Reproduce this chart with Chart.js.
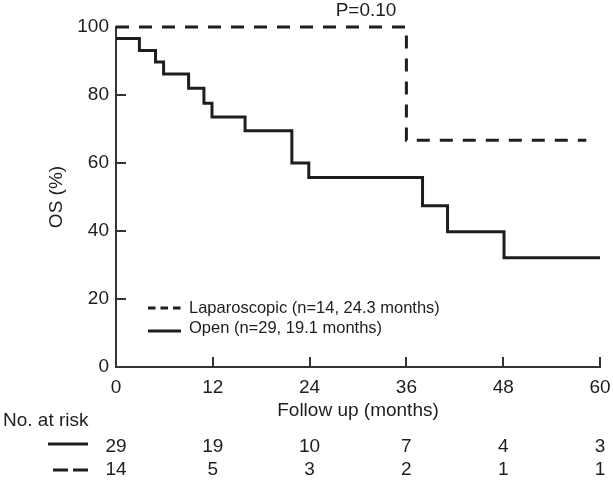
<!DOCTYPE html>
<html>
<head>
<meta charset="utf-8">
<script src="https://cdn.jsdelivr.net/npm/chart.js@4/dist/chart.umd.min.js"></script>
<style>
  html, body { margin: 0; padding: 0; background: #fff; }
</style>
</head>
<body>
<canvas id="kmChart" width="613" height="480"></canvas>
<script>
// Kaplan-Meier steps (months, OS %)
const openTimes = [0, 2.9, 4.9, 5.9, 9.0, 10.9, 11.9, 16.0, 21.8, 23.9, 38.0, 41.1, 48.1, 60];
const openSurv  = [96.6, 93.1, 89.7, 86.2, 82.0, 77.6, 73.5, 69.5, 60.0, 55.7, 47.4, 39.8, 32.1, 32.1];
const lapTimes  = [0, 36.0, 58.3];
const lapSurv   = [100, 66.7, 66.7];

// Number at risk table
const riskTimes = [0, 12, 24, 36, 48, 60];
const openRisk  = [29, 19, 10, 7, 4, 3];
const lapRisk   = [14, 5, 3, 2, 1, 1];

const xTicks = [0, 12, 24, 36, 48, 60];
const yTicks = [0, 20, 40, 60, 80, 100];

const legendLabels = ['Laparoscopic (n=14, 24.3 months)', 'Open (n=29, 19.1 months)'];

const ink = '#1e1e1e';
const axisColor = '#333';
const bigFont = '19px "Liberation Sans", Arial, Helvetica, sans-serif';
const smallFont = '16.5px "Liberation Sans", Arial, Helvetica, sans-serif';

function toPoints(xs, ys) {
    return xs.map((x, i) => ({ x: x, y: ys[i] }));
}

// tick marks pointing into the plot, plus the free text around it
const extrasPlugin = {
    id: 'extras',
    beforeDatasetsDraw(chart) {
        const ctx = chart.ctx;
        const xs = chart.scales.x, ys = chart.scales.y;
        const area = chart.chartArea;
        ctx.save();
        ctx.strokeStyle = axisColor;
        ctx.lineWidth = 2;
        xTicks.forEach(t => {
            const px = Math.round(xs.getPixelForValue(t));
            ctx.beginPath();
            ctx.moveTo(px, area.bottom);
            ctx.lineTo(px, area.bottom - 10);
            ctx.stroke();
        });
        yTicks.forEach(t => {
            const py = Math.round(ys.getPixelForValue(t));
            ctx.beginPath();
            ctx.moveTo(area.left, py);
            ctx.lineTo(area.left + 10, py);
            ctx.stroke();
        });
        ctx.restore();
    },
    afterDraw(chart) {
        const ctx = chart.ctx;
        const xs = chart.scales.x;
        const area = chart.chartArea;
        ctx.save();
        ctx.fillStyle = ink;
        ctx.textBaseline = 'middle';

        // p value
        ctx.font = bigFont;
        ctx.textAlign = 'center';
        ctx.fillText('P=0.10', 366, 11);

        // axis titles
        ctx.fillText('Follow up (months)', (area.left + area.right) / 2, 411);
        ctx.save();
        ctx.translate(57, (area.top + area.bottom) / 2);
        ctx.rotate(-Math.PI / 2);
        ctx.fillText('OS (%)', 0, 0);
        ctx.restore();

        // legend inside the plot
        ctx.strokeStyle = ink;
        ctx.lineWidth = 3;
        ctx.setLineDash([7.5, 5]);
        ctx.beginPath(); ctx.moveTo(148, 308); ctx.lineTo(181, 308); ctx.stroke();
        ctx.setLineDash([]);
        ctx.beginPath(); ctx.moveTo(148, 331); ctx.lineTo(181, 331); ctx.stroke();
        ctx.font = smallFont;
        ctx.textAlign = 'left';
        ctx.fillText(legendLabels[0], 189, 308);
        ctx.fillText(legendLabels[1], 189, 328);

        // number at risk
        ctx.font = bigFont;
        ctx.fillText('No. at risk', 3, 421);
        ctx.beginPath(); ctx.moveTo(48, 444); ctx.lineTo(88, 444); ctx.stroke();
        ctx.setLineDash([15, 5]);
        ctx.beginPath(); ctx.moveTo(53, 470); ctx.lineTo(88, 470); ctx.stroke();
        ctx.setLineDash([]);
        ctx.textAlign = 'center';
        riskTimes.forEach((t, i) => {
            const px = xs.getPixelForValue(t);
            ctx.fillText(String(openRisk[i]), px, 447);
            ctx.fillText(String(lapRisk[i]), px, 470);
        });
        ctx.restore();
    }
};

new Chart(document.getElementById('kmChart').getContext('2d'), {
    type: 'line',
    data: {
        datasets: [{
            label: legendLabels[0],
            data: toPoints(lapTimes, lapSurv),
            borderColor: ink,
            borderWidth: 3,
            borderDash: [13, 10],
            stepped: 'before',
            pointRadius: 0,
            fill: false,
            clip: false
        }, {
            label: legendLabels[1],
            data: toPoints(openTimes, openSurv),
            borderColor: ink,
            borderWidth: 3,
            stepped: 'before',
            pointRadius: 0,
            fill: false,
            clip: false
        }]
    },
    options: {
        responsive: false,
        animation: false,
        devicePixelRatio: 1,
        layout: { padding: { left: 0, right: 13, top: 27, bottom: 0 } },
        plugins: {
            legend: { display: false },
            tooltip: { enabled: false }
        },
        scales: {
            x: {
                type: 'linear',
                min: 0,
                max: 60,
                afterBuildTicks: s => { s.ticks = xTicks.map(v => ({ value: v })); },
                afterFit: s => { s.height = 113; s.paddingLeft = 0; s.paddingRight = 0; },
                grid: { display: false, drawTicks: false },
                border: { display: true, color: axisColor, width: 2 },
                ticks: { color: ink, font: { size: 19, family: '"Liberation Sans", Arial, sans-serif' }, padding: 9, maxRotation: 0 }
            },
            y: {
                min: 0,
                max: 100,
                afterBuildTicks: s => { s.ticks = yTicks.map(v => ({ value: v })); },
                afterFit: s => { s.width = 116; },
                grid: { display: false, drawTicks: false },
                border: { display: true, color: axisColor, width: 2 },
                ticks: { color: ink, font: { size: 19, family: '"Liberation Sans", Arial, sans-serif' }, padding: 7 }
            }
        }
    },
    plugins: [extrasPlugin]
});
</script>
</body>
</html>
